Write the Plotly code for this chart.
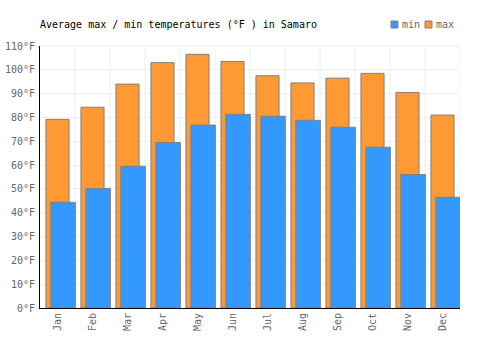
import plotly.graph_objects as go

months = ["Jan", "Feb", "Mar", "Apr", "May", "Jun", "Jul", "Aug", "Sep", "Oct", "Nov", "Dec"]
max_temps = [79.2, 84.3, 94.0, 103.0, 106.5, 103.5, 97.5, 94.5, 96.5, 98.5, 90.5, 81.0]
min_temps = [44.4, 50.2, 59.5, 69.5, 76.8, 81.3, 80.5, 78.8, 75.9, 67.5, 56.0, 46.5]
y_ticks = list(range(0, 111, 10))
y_tick_labels = [f"{v}°F" for v in y_ticks]

font_family = "DejaVu Sans Mono"
line_col = "#808080"
blue = "#3399ff"
orange = "#ff9933"

W, H = 500, 350
ML, MR, MT, MB = 40, 40, 46, 42
PW, PH = W - ML - MR, H - MT - MB

def px_x(x):
    return (x - ML) / PW

def px_y(y):
    return (H - MB - y) / PH

fig = go.Figure()
fig.add_trace(go.Bar(
    x=months, y=max_temps, name="max", showlegend=False,
    marker=dict(color=orange, line=dict(color=line_col, width=1)),
    width=0.66, offset=-0.33,
))
fig.add_trace(go.Bar(
    x=months, y=min_temps, name="min", showlegend=False,
    marker=dict(color=blue, line=dict(color=line_col, width=1)),
    width=0.70, offset=-0.19,
))

fig.update_layout(
    width=W, height=H,
    margin=dict(l=ML, r=MR, t=MT, b=MB),
    paper_bgcolor="white", plot_bgcolor="white",
    barmode="overlay",
    showlegend=False,
    font=dict(family=font_family, size=10, color="#666666"),
    title=dict(text="Average max / min temperatures (°F ) in Samaro",
               x=40/W, xanchor="left", y=1-24/H, yanchor="middle",
               font=dict(family=font_family, size=10, color="#000000")),
    xaxis=dict(showline=True, linecolor="black", linewidth=1,
               showgrid=False, tickangle=-90, ticks="", automargin=False,
               range=[-0.5, 11.5]),
    yaxis=dict(range=[0, 110], tickvals=y_ticks, ticktext=y_tick_labels,
               showline=True, linecolor="black", linewidth=1, automargin=False,
               gridcolor="#eeeeee", zeroline=False, ticks="", ticklabelstandoff=2),
)

# vertical grid lines at category boundaries
for i in range(12):
    fig.add_shape(type="line", xref="x", yref="paper", x0=i+0.5, x1=i+0.5, y0=0, y1=1,
                  line=dict(color="#eeeeee", width=1), layer="below")
fig.add_shape(type="line", xref="paper", yref="paper", x0=0, x1=1, y0=1, y1=1,
              line=dict(color="#eeeeee", width=1), layer="below")

# custom legend
legend_items = [("min", blue, 391), ("max", orange, 425)]
for name, col, x0 in legend_items:
    fig.add_shape(type="rect", xref="paper", yref="paper",
                  x0=px_x(x0), x1=px_x(x0 + 7), y0=px_y(28), y1=px_y(21),
                  fillcolor=col, line=dict(color=line_col, width=1))
    fig.add_annotation(xref="paper", yref="paper", x=px_x(x0 + 9), y=px_y(24.5),
                       text=name, showarrow=False, xanchor="left", yanchor="middle",
                       font=dict(family=font_family, size=10, color="#666666"))

fig.write_html("out.html")
